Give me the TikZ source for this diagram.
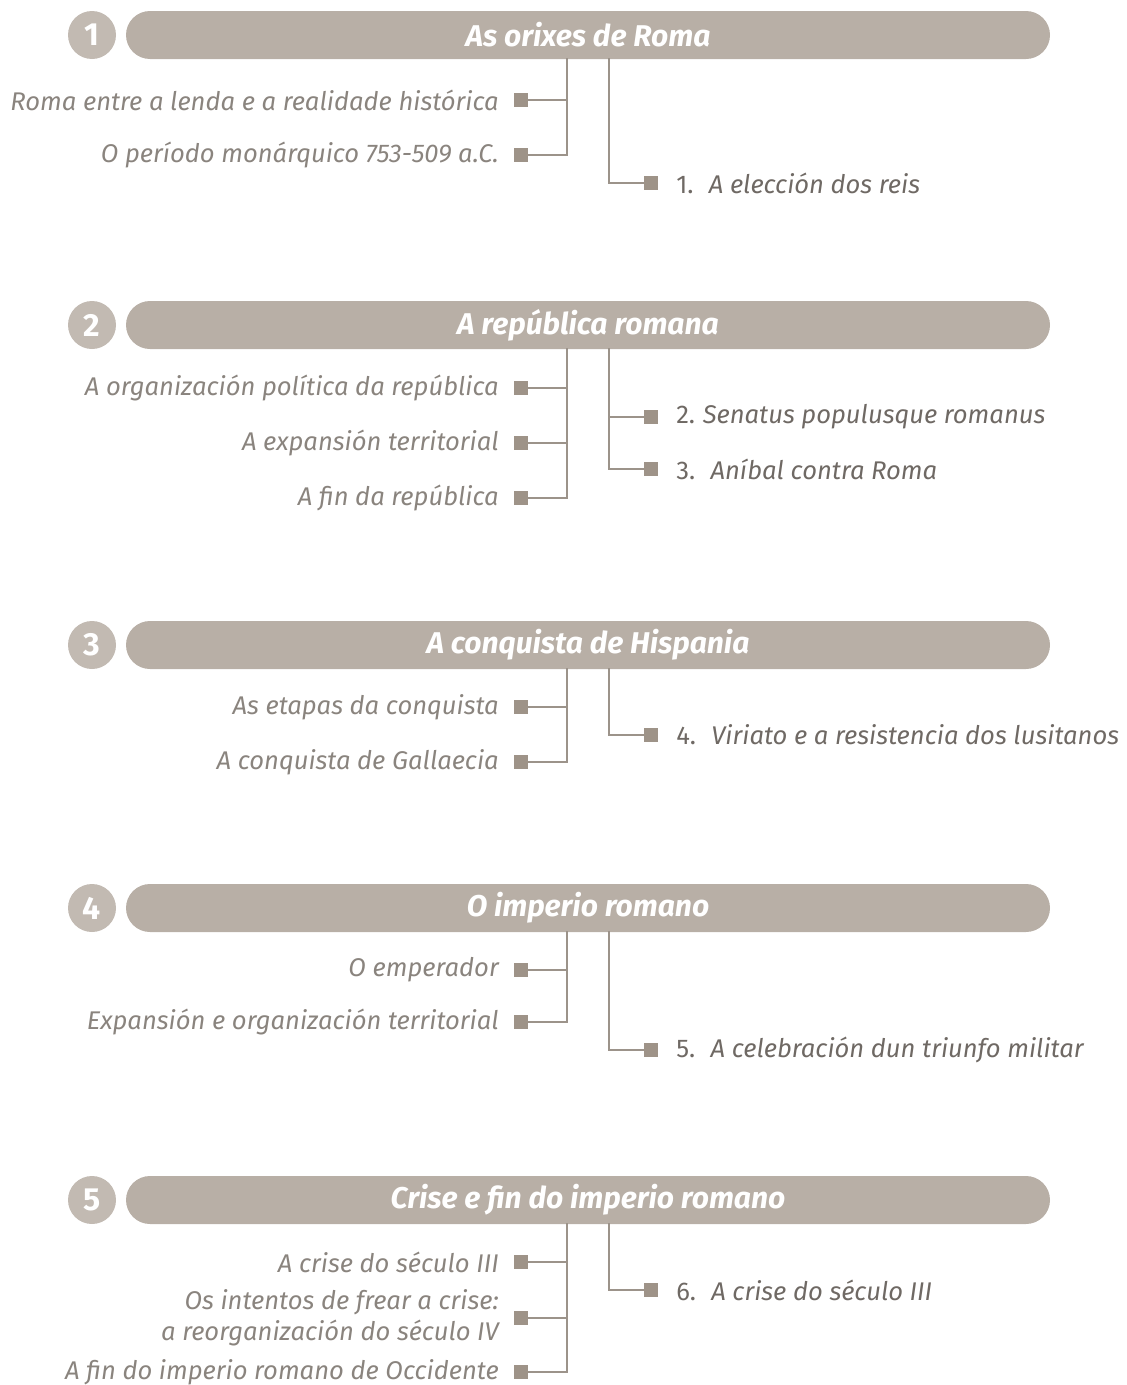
\documentclass[tikz,border=0pt]{standalone}
\usepackage{fontspec}
\setmainfont{Fira Sans}
\definecolor{barc}{HTML}{B8AFA6}
\definecolor{circc}{HTML}{C2BAB2}
\definecolor{linec}{HTML}{9C938A}
\definecolor{sqc}{HTML}{9E9388}
\definecolor{labc}{HTML}{8A847E}
\definecolor{subc}{HTML}{6F6964}
\tikzset{
  bar/.style={fill=barc, rounded corners=18pt, minimum width=693pt, minimum height=36pt,
    inner sep=0pt, text=white, font=\fontsize{22.5}{26}\selectfont\bfseries\itshape},
  numc/.style={circle, fill=circc, minimum size=36pt, inner sep=0pt, text=white,
    font=\fontsize{24}{26}\selectfont\bfseries},
  sqbox/.style={fill=sqc, minimum size=10pt, inner sep=0pt},
  lab/.style={anchor=east, inner sep=0pt, text=labc, align=right,
    font=\fontsize{19.2}{23.5}\selectfont\itshape},
  sub/.style={anchor=west, inner sep=0pt, text=subc,
    font=\fontsize{19.2}{23}\selectfont},
  conn/.style={draw=linec, line width=1.9pt}
}
\newcommand{\subtxt}[2]{{\upshape #1}\hspace{0.6em}{\itshape #2}}
\begin{document}
\begin{tikzpicture}[x=0.75pt,y=-0.75pt]
\useasboundingbox (0,0) rectangle (1127,1385);

% ---------- Section 1
\node[numc] (n1) at (92,35) {1};
\node[bar] (t1) at (588,35) {As orixes de Roma};
\coordinate (v1) at (567,58);
\coordinate (w1) at (609,58);
\node[sqbox] (l11) at (521,100) {};
\node[lab] (lt11) at (499,100) {Roma entre a lenda e a realidade histórica};
\node[sqbox] (l12) at (521,155) {};
\node[lab] (lt12) at (499,155) {O período monárquico 753-509 a.C.};
\draw[conn] (v1) |- (l12.east);
\draw[conn] (l11.east) -- (l11.east -| v1);
\node[sqbox] (r11) at (651,183) {};
\node[sub] (rt11) at (676,183) {\subtxt{1.}{A elección dos reis}};
\draw[conn] (w1) |- (r11.west);

% ---------- Section 2
\node[numc] (n2) at (92,325) {2};
\node[bar] (t2) at (588,325) {A república romana};
\coordinate (v2) at (567,348);
\coordinate (w2) at (609,348);
\node[sqbox] (l21) at (521,388) {};
\node[lab] (lt21) at (499,388) {A organización política da república};
\node[sqbox] (l22) at (521,443) {};
\node[lab] (lt22) at (499,443) {A expansión territorial};
\node[sqbox] (l23) at (521,498) {};
\node[lab] (lt23) at (499,498) {A fin da república};
\draw[conn] (v2) |- (l23.east);
\draw[conn] (l21.east) -- (l21.east -| v2);
\draw[conn] (l22.east) -- (l22.east -| v2);
\node[sqbox] (r21) at (651,417) {};
\node[sub] (rt21) at (676,417) {{\upshape 2.}\hspace{0.3em}{\itshape Senatus populusque romanus}};
\node[sqbox] (r22) at (651,469) {};
\node[sub] (rt22) at (676,469) {\subtxt{3.}{Aníbal contra Roma}};
\draw[conn] (w2) |- (r22.west);
\draw[conn] (r21.west) -- (r21.west -| w2);

% ---------- Section 3
\node[numc] (n3) at (92,645) {3};
\node[bar] (t3) at (588,645) {A conquista de Hispania};
\coordinate (v3) at (567,668);
\coordinate (w3) at (609,668);
\node[sqbox] (l31) at (521,707) {};
\node[lab] (lt31) at (499,707) {As etapas da conquista};
\node[sqbox] (l32) at (521,762) {};
\node[lab] (lt32) at (499,762) {A conquista de Gallaecia};
\draw[conn] (v3) |- (l32.east);
\draw[conn] (l31.east) -- (l31.east -| v3);
\node[sqbox] (r31) at (651,735) {};
\node[sub] (rt31) at (676,735) {\subtxt{4.}{Viriato e a resistencia dos lusitanos}};
\draw[conn] (w3) |- (r31.west);

% ---------- Section 4
\node[numc] (n4) at (92,908) {4};
\node[bar] (t4) at (588,908) {O imperio romano};
\coordinate (v4) at (567,931);
\coordinate (w4) at (609,931);
\node[sqbox] (l41) at (521,970) {};
\node[lab] (lt41) at (499,970) {O emperador};
\node[sqbox] (l42) at (521,1022) {};
\node[lab] (lt42) at (499,1022) {Expansión e organización territorial};
\draw[conn] (v4) |- (l42.east);
\draw[conn] (l41.east) -- (l41.east -| v4);
\node[sqbox] (r41) at (651,1050) {};
\node[sub] (rt41) at (676,1050) {\subtxt{5.}{A celebración dun triunfo militar}};
\draw[conn] (w4) |- (r41.west);

% ---------- Section 5
\node[numc] (n5) at (92,1200) {5};
\node[bar] (t5) at (588,1200) {Crise e fin do imperio romano};
\coordinate (v5) at (567,1223);
\coordinate (w5) at (609,1223);
\node[sqbox] (l51) at (521,1262) {};
\node[lab] (lt51) at (499,1262) {A crise do século III};
\node[sqbox] (l52) at (521,1318) {};
\node[lab] (lt52) at (499,1318) {Os intentos de frear a crise:\\a reorganización do século IV};
\node[sqbox] (l53) at (521,1372) {};
\node[lab] (lt53) at (499,1372) {A fin do imperio romano de Occidente};
\draw[conn] (v5) |- (l53.east);
\draw[conn] (l51.east) -- (l51.east -| v5);
\draw[conn] (l52.east) -- (l52.east -| v5);
\node[sqbox] (r51) at (651,1290) {};
\node[sub] (rt51) at (676,1290) {\subtxt{6.}{A crise do século III}};
\draw[conn] (w5) |- (r51.west);
\end{tikzpicture}
\end{document}
